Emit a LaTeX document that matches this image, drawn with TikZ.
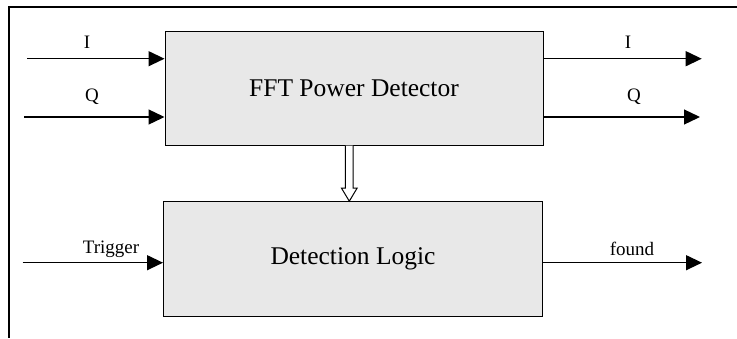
\documentclass[tikz,border=0pt]{standalone}
\usepackage{fontspec}
\setmainfont{Liberation Serif}
\usetikzlibrary{arrows.meta,calc}
\tikzset{
  blockbox/.style={draw=black, line width=1pt, fill=black!9, inner sep=0pt,
    font=\fontsize{25.5}{28}\selectfont},
  sigarrow/.style={line width=1.3pt, -{Triangle[length=16pt,width=15pt]}},
  siglabel/.style={anchor=base, inner sep=0pt, font=\fontsize{19}{21}\selectfont},
  frameline/.style={line width=1.3pt},
  hollow/.style={draw=black, line width=1pt, fill=white, line join=miter}
}
\begin{document}
\begin{tikzpicture}[x=1pt,y=-1pt]
\useasboundingbox (0,0) rectangle (737,338);
% frame
\coordinate (ftl) at (9,7);
\coordinate (ftr) at (737,7);
\coordinate (fbl) at (9,338);
\draw[frameline] (ftr) -- (ftl) -- (fbl);
% blocks
\node[blockbox, minimum width=378pt, minimum height=114pt] (fft) at (354,88) {FFT Power Detector};
\node[blockbox, minimum width=379pt, minimum height=115pt] (det) at (353,259.2) {Detection Logic};
% inputs
\coordinate (iin) at (27,58.7);
\coordinate (qin) at (24,117);
\coordinate (tin) at (22.7,262.7);
\draw[sigarrow] (iin) -- (iin -| fft.west);
\draw[sigarrow] (qin) -- (qin -| fft.west);
\draw[sigarrow] (tin) -- (tin -| det.west);
\node[siglabel] (lii) at (87,48) {I};
\node[siglabel] (liq) at (92,101) {Q};
\node[siglabel] (lit) at (111,253.3) {Trigger};
% outputs
\coordinate (iout) at (701.7,58.7);
\coordinate (qout) at (700,117);
\coordinate (fout) at (702,262.7);
\draw[sigarrow] (iout -| fft.east) -- (iout);
\draw[sigarrow] (qout -| fft.east) -- (qout);
\draw[sigarrow] (fout -| det.east) -- (fout);
\node[siglabel] (loi) at (628,48) {I};
\node[siglabel] (loq) at (634,101) {Q};
\node[siglabel] (lof) at (632,255) {found};
% hollow arrow between blocks
\coordinate (ha) at ($(fft.south)+(-4.7,0)$);
\coordinate (hb) at (ha |- det.north);
\draw[hollow] ($(ha)+(-3.9,0)$) -- ($(ha)+(-3.9,42.5)$) -- ($(ha)+(-7.9,42.5)$)
  -- (hb) -- ($(ha)+(7.9,42.5)$) -- ($(ha)+(3.9,42.5)$) -- ($(ha)+(3.9,0)$);
\end{tikzpicture}
\end{document}
